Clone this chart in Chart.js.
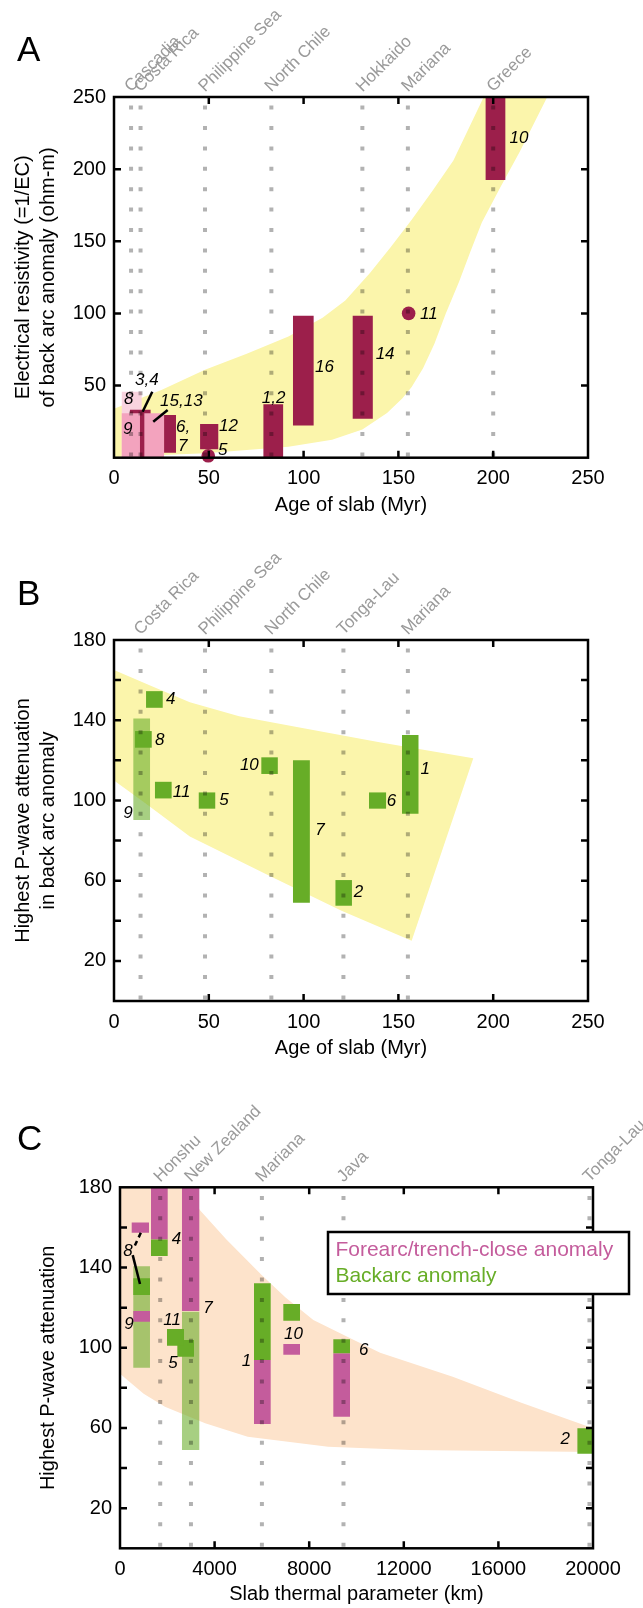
<!DOCTYPE html>
<html>
<head>
<meta charset="utf-8">
<title>Back-arc anomalies vs slab age and thermal parameter</title>
<script src="https://cdn.jsdelivr.net/npm/chart.js@4.4.1/dist/chart.umd.min.js"></script>
<style>
  body { margin: 0; background: #fff; }
  canvas { position: absolute; left: 0; }
</style>
</head>
<body>
<canvas id="chartA" width="643" height="540" style="top:0px"></canvas>
<canvas id="chartB" width="643" height="540" style="top:540px"></canvas>
<canvas id="chartC" width="643" height="528" style="top:1080px"></canvas>
<script>
'use strict';

// ---------- Panel A: resistivity vs age of slab ----------
const sitesA = ['Cascadia', 'Costa Rica', 'Philippine Sea', 'North Chile', 'Hokkaido', 'Mariana', 'Greece'];
const sitesAgeA = [9, 14, 48, 83, 131, 155, 200];

const resBoxNames = ['8', '3,4', '9', '15,13', '6,7', '12', '1,2', '16', '14', '10'];
const resBoxKind = ['bound', 'main', 'alt', 'alt', 'main', 'main', 'main', 'main', 'main', 'main'];
const resBoxAge = [[4.1, 14.6], [8.4, 19.3], [4.1, 13.7], [16, 26.4], [26.4, 32.7], [45.4, 55], [78.8, 89.2], [94.4, 105.3], [125.9, 136.5], [196, 206.4]];
const resBoxRho = [[0, 45.7], [0, 33.2], [0, 30.8], [0, 30.8], [3.5, 29.6], [5.8, 23.3], [0, 37], [22.4, 98.4], [27, 98.4], [192.5, 250]];

const resPointNames = ['5', '11'];
const resPointAge = [49.7, 155.4];
const resPointRho = [1.3, 100];

const bandAUpperAge = [0, 25, 48, 70, 92, 110, 122, 135, 146, 157, 168, 179, 195];
const bandAUpperRho = [34, 47, 61, 72, 84, 97, 109, 128, 146, 165, 185, 206, 250];
const bandALowerAge = [0, 48, 92, 115, 131, 144, 152, 157, 163, 169, 175, 182, 188, 194, 204, 214, 228.5];
const bandALowerRho = [0.5, 3, 7.6, 12.5, 19.5, 31, 41, 49, 62, 79, 100, 122, 143, 163, 188, 212, 250];

// ---------- Panel B: P-wave attenuation vs age of slab ----------
const sitesB = ['Costa Rica', 'Philippine Sea', 'North Chile', 'Tonga-Lau', 'Mariana'];
const sitesAgeB = [14, 48, 83, 121, 155];

const attnBoxNames = ['9', '4', '8', '11', '5', '10', '7', '2', '6', '1'];
const attnBoxKind = ['alt', 'main', 'main', 'main', 'main', 'main', 'main', 'main', 'main', 'main'];
const attnBoxAge = [[10.2, 19], [16.9, 25.7], [11.1, 19.9], [21.6, 30.4], [44.7, 53.4], [77.7, 86.4], [94.4, 103.3], [116.8, 125.5], [134.5, 143.5], [151.9, 160.6]];
const attnBoxQ = [[90.2, 140.9], [146.2, 154.5], [126.3, 134.6], [101, 109.3], [95.9, 104], [113.2, 121.5], [49, 120.1], [47.5, 60.3], [95.9, 104], [93.4, 132.6]];

const bandBUpperAge = [0, 20, 40, 66, 100, 140, 189.5];
const bandBUpperQ = [165, 157, 149, 142, 136, 129, 121];
const bandBLowerAge = [0, 16, 40, 83, 120, 157];
const bandBLowerQ = [110, 99, 82, 62, 45, 30];

// ---------- Panel C: P-wave attenuation vs slab thermal parameter ----------
const sitesC = ['Honshu', 'New Zealand', 'Mariana', 'Java', 'Tonga-Lau'];
const sitesPhiC = [1700, 3000, 6000, 9450, 19850];

const foreNames = ['8', '9', '4', '7', '1', '10', '6'];
const forePhi = [[495, 1226], [562, 1268], [1311, 2017], [2621, 3353], [5666, 6372], [6906, 7611], [9020, 9725]];
const foreQ = [[157.3, 162.5], [113, 118.3], [154, 190], [118.3, 190], [62, 93.9], [96.5, 101.9], [65.6, 97.2]];

const backNames = ['9', '7', '8', '4', '11', '5', '1', '10', '6', '2'];
const backKind = ['alt', 'alt', 'main', 'main', 'main', 'main', 'main', 'main', 'main', 'main'];
const backPhi = [[562, 1268], [2621, 3353], [562, 1268], [1311, 2017], [1987, 2706], [2424, 3129], [5666, 6372], [6906, 7611], [9020, 9725], [19340, 20400]];
const backQ = [[90, 140.6], [49, 118], [126.3, 134.6], [145.7, 154], [101, 109.3], [95.5, 103.8], [93.9, 132.1], [113.5, 121.8], [97.2, 104.2], [47.2, 59.8]];

const bandCUpperPhi = [0, 2000, 3383, 4500, 6000, 7000, 8175, 9890, 11000, 14068, 17000, 20000];
const bandCUpperQ = [235, 195, 168.6, 154, 136.2, 125, 113.8, 103.8, 97.5, 85.5, 72.5, 59.8];
const bandCLowerPhi = [0, 1000, 1900, 3600, 5400, 8800, 12300, 20000];
const bandCLowerQ = [87, 77, 70.6, 62.3, 55.6, 50.6, 49, 48];

const legendC = ['Forearc/trench-close anomaly', 'Backarc anomaly'];

// ---------- styling ----------
const FONT = '"Liberation Sans", Arial, Helvetica, sans-serif';
Chart.defaults.font.family = FONT;

const MAROON = '#9c1f4b';
const PINK = '#f3a3be';
const PALE = '#f9d3df';
const GREEN = '#67ad27';
const LIGHTGREEN = 'rgba(103,173,39,0.58)';
const MAGENTA = '#c45c9c';
const YELLOW = '#fbf5ab';
const PEACH = '#fde3cb';
const DOT = 'rgba(0,0,0,0.3)';

function rect(xr, yr) {
  return [{x: xr[0], y: yr[0]}, {x: xr[1], y: yr[0]}, {x: xr[1], y: yr[1]}, {x: xr[0], y: yr[1]}];
}

function shape(points, color, order) {
  return {
    data: points, backgroundColor: color, borderColor: 'transparent', borderWidth: 0,
    pointRadius: 0, fill: 'shape', order: order
  };
}

function band(ux, uy, lx, ly, color) {
  const pts = ux.map((v, i) => ({x: v, y: uy[i]}));
  for (let i = lx.length - 1; i >= 0; i--) pts.push({x: lx[i], y: ly[i]});
  return shape(pts, color, 20);
}

function dotted(xv, y0, y1) {
  return {
    data: [{x: xv, y: y1}, {x: xv, y: y0}], borderColor: DOT, borderWidth: 4,
    borderDash: [4, 16.4], borderDashOffset: 11.8, borderCapStyle: 'butt',
    pointRadius: 0, fill: false, order: 2
  };
}

function leader(pts, dashed) {
  return {
    data: pts, borderColor: '#000', borderWidth: 2.5, borderDash: dashed ? [5, 4] : [],
    pointRadius: 0, fill: false, order: 0
  };
}

function axes(o) {
  return {
    x: {
      type: 'linear', min: o.xMin, max: o.xMax,
      ticks: { stepSize: o.xStep, color: '#000', font: { size: 20 }, padding: 9, maxRotation: 0, autoSkip: false,
               callback: v => String(v) },
      grid: { display: false, drawTicks: false },
      border: { display: false },
      title: { display: true, text: o.xTitle, color: '#000', font: { size: 20 }, padding: { top: 0, bottom: o.xTitlePad } },
      afterFit: s => { s.height = o.xHeight; }
    },
    y: {
      type: 'linear', min: o.yMin, max: o.yMax,
      ticks: { stepSize: o.yStep, color: '#000', font: { size: 20 }, padding: 8, autoSkip: false,
               callback: o.yLabel },
      grid: { display: false, drawTicks: false },
      border: { display: false },
      title: { display: true, text: o.yTitle, color: '#000', font: { size: 20, lineHeight: 1.25 }, padding: { top: o.yTitlePad, bottom: 0 } },
      afterFit: s => { s.width = o.yWidth; }
    }
  };
}

// frame, inward ticks, rotated site names, panel letter, number labels, legend
function decor(cfg) {
  return {
    id: 'decor',
    afterDraw(chart) {
      const {ctx, chartArea: a, scales: {x, y}} = chart;
      ctx.save();
      ctx.strokeStyle = '#000';
      ctx.lineWidth = 2.5;
      ctx.strokeRect(a.left, a.top, a.right - a.left, a.bottom - a.top);
      ctx.beginPath();
      x.ticks.forEach(t => {
        if (t.value <= x.min || t.value >= x.max) return;
        const p = x.getPixelForValue(t.value);
        ctx.moveTo(p, a.bottom); ctx.lineTo(p, a.bottom - 7);
        ctx.moveTo(p, a.top); ctx.lineTo(p, a.top + 7);
      });
      y.ticks.forEach(t => {
        if (t.value <= y.min || t.value >= y.max) return;
        const p = y.getPixelForValue(t.value);
        ctx.moveTo(a.left, p); ctx.lineTo(a.left + 7, p);
        ctx.moveTo(a.right, p); ctx.lineTo(a.right - 7, p);
      });
      ctx.stroke();

      ctx.fillStyle = '#9a9a9a';
      ctx.font = '17px ' + FONT;
      ctx.textAlign = 'left';
      ctx.textBaseline = 'alphabetic';
      cfg.sites.forEach((s, i) => {
        ctx.save();
        ctx.translate(x.getPixelForValue(cfg.siteX[i]), a.top - 4.5);
        ctx.rotate(-Math.PI / 4);
        ctx.fillText(s, 0, 0);
        ctx.restore();
      });

      ctx.fillStyle = '#000';
      ctx.font = '35px ' + FONT;
      ctx.fillText(cfg.letter, 17, cfg.letterY);

      ctx.font = 'italic 17px ' + FONT;
      ctx.textBaseline = 'middle';
      cfg.notes.forEach(n => {
        ctx.fillText(n[0], x.getPixelForValue(n[1]), y.getPixelForValue(n[2]));
      });

      if (cfg.legend) {
        const lx = a.left + 208, ly = a.top + 44.7;
        ctx.fillStyle = '#fff';
        ctx.fillRect(lx, ly, 301, 62);
        ctx.lineWidth = 2.5;
        ctx.strokeRect(lx, ly, 301, 62);
        ctx.font = '21px ' + FONT;
        cfg.legend.forEach((t, i) => {
          ctx.fillStyle = cfg.legendColors[i];
          ctx.fillText(t, lx + 7.4, ly + 18 + i * 26.7);
        });
      }
      ctx.restore();
    }
  };
}

function makeChart(id, datasets, scaleOpts, deco, pad) {
  return new Chart(document.getElementById(id), {
    type: 'line',
    data: { datasets: datasets },
    options: {
      responsive: false,
      animation: false,
      devicePixelRatio: 1,
      events: [],
      layout: { padding: pad },
      plugins: { legend: { display: false }, tooltip: { enabled: false } },
      scales: axes(scaleOpts)
    },
    plugins: [decor(deco)]
  });
}

// ---------- Panel A ----------
(function () {
  const sets = [band(bandAUpperAge, bandAUpperRho, bandALowerAge, bandALowerRho, YELLOW)];
  const colorOf = { bound: PALE, main: MAROON, alt: PINK };
  const orderOf = { bound: 12, main: 11, alt: 10 };
  resBoxNames.forEach((n, i) => {
    sets.push(shape(rect(resBoxAge[i], resBoxRho[i]), colorOf[resBoxKind[i]], orderOf[resBoxKind[i]]));
  });
  sets.push({
    data: resPointAge.map((v, i) => ({x: v, y: resPointRho[i]})), showLine: false,
    pointRadius: 6.8, pointBackgroundColor: MAROON, pointBorderWidth: 0, clip: false, order: 3
  });
  sitesAgeA.forEach(v => sets.push(dotted(v, 0, 250)));
  sets.push(leader([{x: 20.2, y: 45.7}, {x: 15.1, y: 31.9}], false));
  sets.push(leader([{x: 28.3, y: 33.1}, {x: 20.7, y: 24.9}], false));

  const notes = [
    ['10', 208.6, 221.5], ['11', 161.4, 99.6], ['14', 138, 71.9], ['16', 106, 63],
    ['1,2', 77.9, 41.2], ['12', 55.4, 21.5], ['5', 54.9, 5.3], ['6,', 32.7, 20.8],
    ['7', 33.8, 8.1], ['15,13', 24.3, 38.9], ['3,4', 11.1, 53.5], ['8', 5.3, 40.7], ['9', 4.7, 19.9]
  ];
  makeChart('chartA', sets, {
    xMin: 0, xMax: 250, xStep: 50, xTitle: 'Age of slab (Myr)', xTitlePad: 23, xHeight: 82.3,
    yMin: 0, yMax: 250, yStep: 50, yLabel: v => (v === 0 ? '' : String(v)),
    yTitle: ['Electrical resistivity (=1/EC)', 'of back arc anomaly (ohm-m)'], yTitlePad: 11, yWidth: 114
  }, { sites: sitesA, siteX: sitesAgeA, letter: 'A', letterY: 61, notes: notes },
  { top: 97, right: 55, left: 0, bottom: 0 });
})();

// ---------- Panel B ----------
(function () {
  const sets = [band(bandBUpperAge, bandBUpperQ, bandBLowerAge, bandBLowerQ, YELLOW)];
  attnBoxNames.forEach((n, i) => {
    const alt = attnBoxKind[i] === 'alt';
    sets.push(shape(rect(attnBoxAge[i], attnBoxQ[i]), alt ? LIGHTGREEN : GREEN, alt ? 12 : 11));
  });
  sitesAgeB.forEach(v => sets.push(dotted(v, 0, 180)));
  const notes = [
    ['4', 27.4, 150.5], ['8', 21.6, 130.1], ['11', 31, 104.3], ['9', 4.9, 93.6], ['5', 55.5, 100.2],
    ['10', 66.4, 117.6], ['7', 106.1, 85.2], ['2', 126.5, 54.2], ['6', 143.9, 99.7], ['1', 161.7, 115.5]
  ];
  makeChart('chartB', sets, {
    xMin: 0, xMax: 250, xStep: 50, xTitle: 'Age of slab (Myr)', xTitlePad: 20, xHeight: 79,
    yMin: 0, yMax: 180, yStep: 20, yLabel: v => (v % 40 === 20 ? String(v) : ''),
    yTitle: ['Highest P-wave attenuation', 'in back arc anomaly'], yTitlePad: 11, yWidth: 114
  }, { sites: sitesB, siteX: sitesAgeB, letter: 'B', letterY: 65, notes: notes },
  { top: 100, right: 55, left: 0, bottom: 0 });
})();

// ---------- Panel C ----------
(function () {
  const sets = [band(bandCUpperPhi, bandCUpperQ, bandCLowerPhi, bandCLowerQ, PEACH)];
  backNames.forEach((n, i) => {
    if (backKind[i] === 'alt') sets.push(shape(rect(backPhi[i], backQ[i]), LIGHTGREEN, 13));
  });
  foreNames.forEach((n, i) => sets.push(shape(rect(forePhi[i], foreQ[i]), MAGENTA, 12)));
  backNames.forEach((n, i) => {
    if (backKind[i] === 'main') sets.push(shape(rect(backPhi[i], backQ[i]), GREEN, 11));
  });
  sitesPhiC.forEach(v => sets.push(dotted(v, 0, 180)));
  sets.push(leader([{x: 880, y: 157.3}, {x: 610, y: 150.5}], true));
  sets.push(leader([{x: 537, y: 146.2}, {x: 846, y: 131.8}], false));
  const notes = [
    ['8', 140, 147.9], ['4', 2185, 154], ['7', 3523, 119.6], ['11', 1831, 113.8], ['9', 182, 111.8],
    ['5', 2042, 92.2], ['1', 5145, 93.4], ['10', 6934, 106.8], ['6', 10106, 98.9], ['2', 18626, 54.3]
  ];
  makeChart('chartC', sets, {
    xMin: 0, xMax: 20000, xStep: 4000, xTitle: 'Slab thermal parameter (km)', xTitlePad: 2, xHeight: 59.7,
    yMin: 0, yMax: 180, yStep: 20, yLabel: v => (v % 40 === 20 ? String(v) : ''),
    yTitle: 'Highest P-wave attenuation', yTitlePad: 35.5, yWidth: 120
  }, { sites: sitesC, siteX: sitesPhiC, letter: 'C', letterY: 70, notes: notes,
       legend: legendC, legendColors: [MAGENTA, GREEN] },
  { top: 107.3, right: 50, left: 0, bottom: 0 });
})();
</script>
</body>
</html>
